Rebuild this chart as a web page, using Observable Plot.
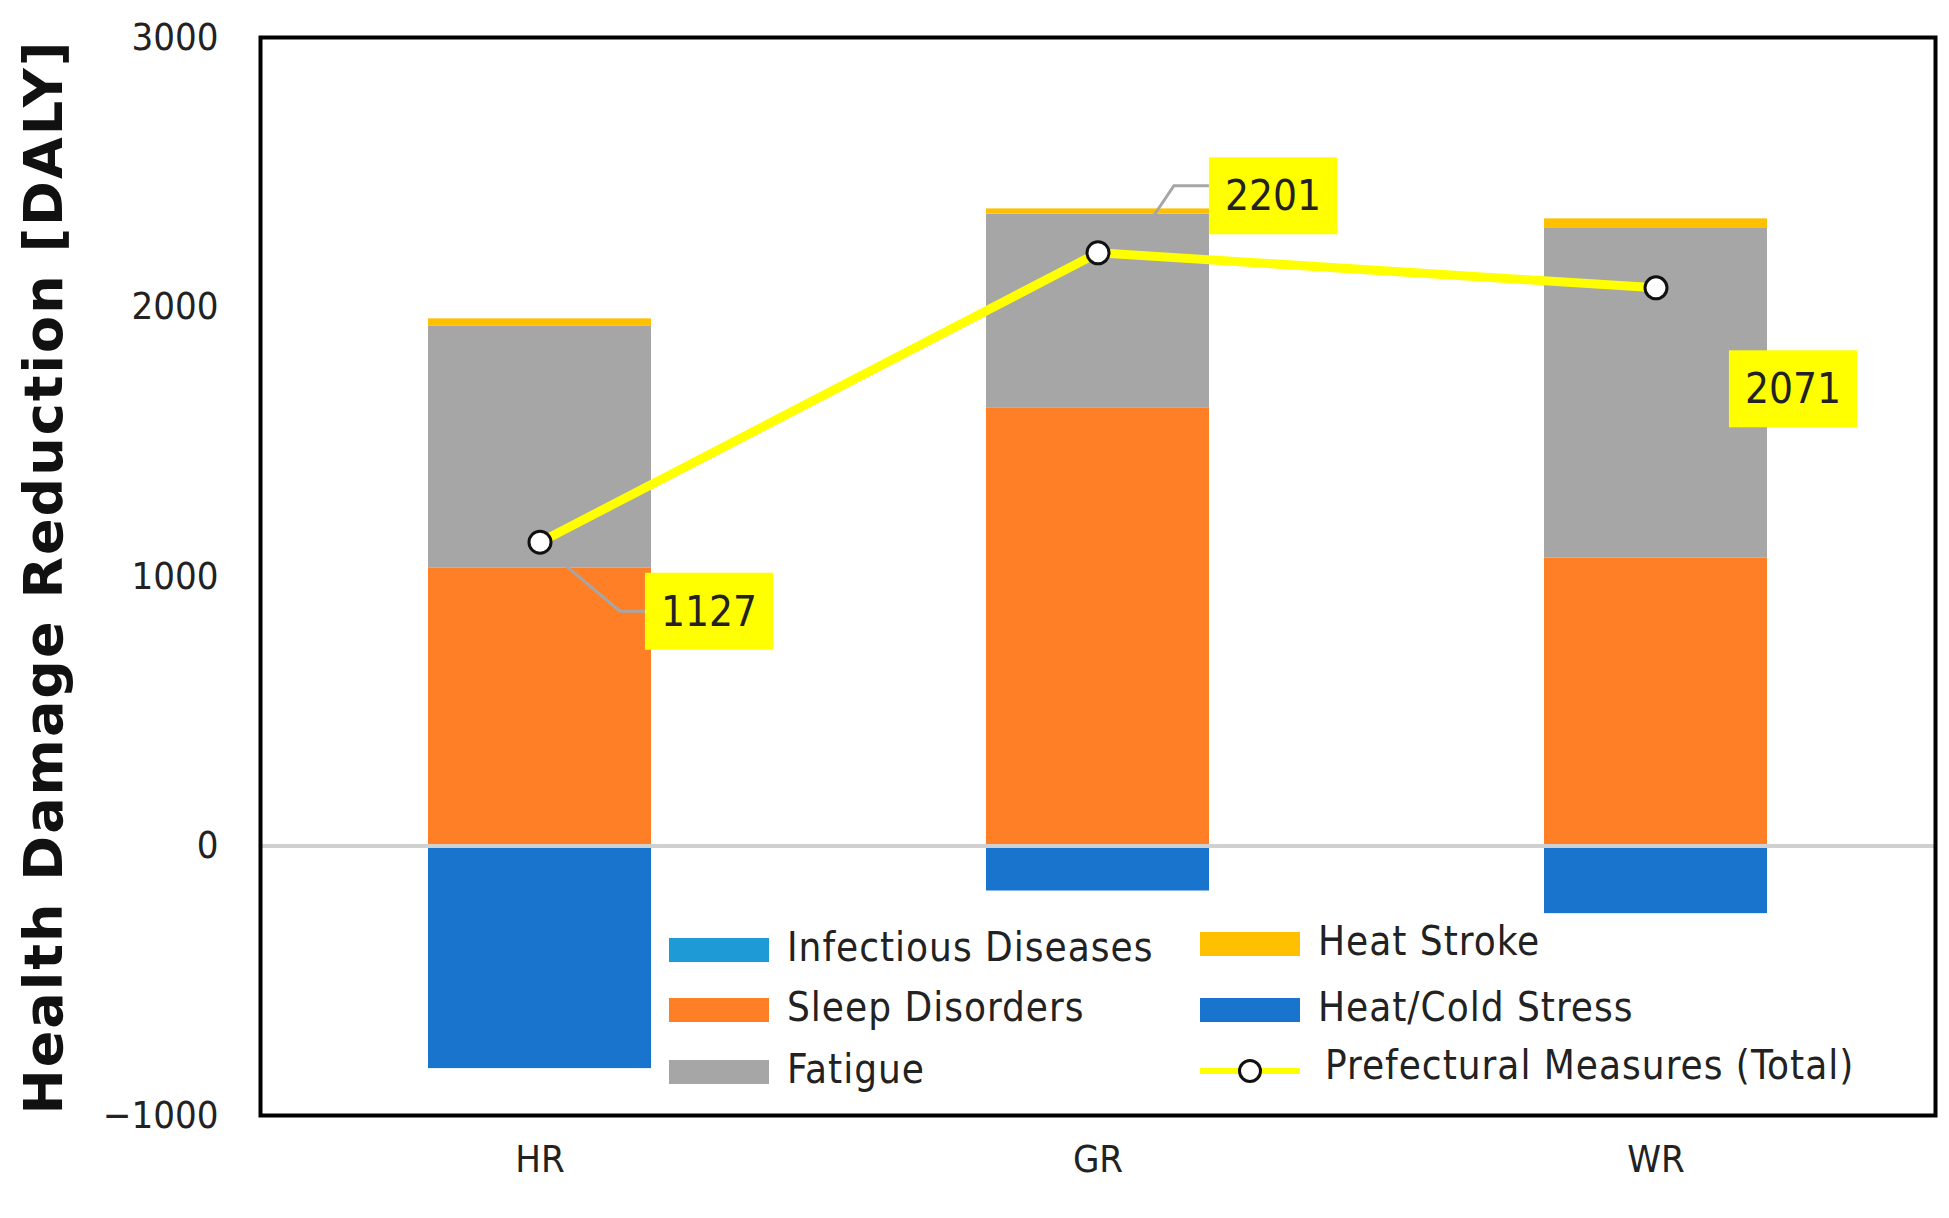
<!DOCTYPE html>
<html><head><meta charset="utf-8">
<script src="https://cdn.jsdelivr.net/npm/d3@7"></script>
<script src="https://cdn.jsdelivr.net/npm/@observablehq/plot@0.6"></script>
<style>
body{margin:0;background:#fff;}
#wrap{position:relative;width:1949px;height:1218px;}
.lg{position:absolute;font-family:"Liberation Sans Narrow","DejaVu Sans Condensed",sans-serif;font-size:40px;color:#222;letter-spacing:1px;}
.sw{position:absolute;width:100px;height:24px;}
</style></head><body><div id="wrap"></div>
<script>
const regions = ["HR","GR","WR"];
const series = ["Infectious Diseases","Sleep Disorders","Fatigue","Heat Stroke","Heat/Cold Stress"];
const colors = ["#1E9BD7","#FF7F27","#A6A6A6","#FFC000","#1874CD"];
const infectious = [2, 2, 2];
const sleep = [1030, 1624, 1067];
const fatigue = [896, 719, 1225];
const heatStroke = [28, 19, 33];
const heatCold = [-826, -167, -251];
const totals = [1127, 2201, 2071];
const yTicks = [-1000, 0, 1000, 2000, 3000];

const vals = [infectious, sleep, fatigue, heatStroke, heatCold];
const rows = [];
series.forEach((s,i)=>regions.forEach((r,j)=>rows.push({region:r, series:s, value:vals[i][j]})));
const tot = regions.map((r,j)=>({region:r, total:totals[j]}));
const offs = [[169,70],[175,-56],[137,102]];

const font = '"Liberation Sans Narrow","DejaVu Sans Condensed",sans-serif';
const chart = Plot.plot({
  width:1949, height:1218,
  marginLeft:260, marginRight:14, marginTop:37, marginBottom:103,
  style:{fontFamily:font, fontSize:"38px", color:"#222"},
  x:{domain:regions, paddingInner:0.6, paddingOuter:0.3, label:null, tickSize:0, tickPadding:30},
  y:{domain:[-1000,3000], ticks:yTicks, tickFormat:d=>d<0?"\u2212"+Math.abs(d):String(d), label:null, tickSize:0, tickPadding:42},
  color:{domain:series, range:colors},
  marks:[
    Plot.barY(rows,{x:"region", y:"value", fill:"series", order:series}),
    Plot.ruleY([0],{stroke:"#D0D0D0", strokeWidth:4}),
    Plot.line(tot,{x:"region", y:"total", stroke:"#FFFF00", strokeWidth:9}),
    Plot.dot(tot,{x:"region", y:"total", r:11, fill:"white", stroke:"#111", strokeWidth:3}),
    Plot.frame({stroke:"#000", strokeWidth:4}),
    ...tot.map((d,i)=>Plot.text([d],{x:"region", y:"total", text:d=>String(d.total), dx:offs[i][0], dy:offs[i][1], fontSize:42, fill:"#222", className:"lbl"+i}))
  ]
});
document.getElementById("wrap").appendChild(chart);
const svg = d3.select(chart);
tot.forEach((d,i)=>{
  const t = svg.select(".lbl"+i+" text");
  if(t.empty()) return;
  const tr = t.attr("transform") || null;
  const bb = t.node().getBBox();
  const padX=16, padY=14;
  const g = t.node().parentNode;
  d3.select(g).insert("rect","text").attr("transform",tr).attr("x",bb.x-padX).attr("y",bb.y-padY).attr("width",bb.width+2*padX).attr("height",bb.height+2*padY).attr("fill","#FFFF00");
  const px = bb.x + bb.width/2 - offs[i][0], py = bb.y + bb.height/2 - offs[i][1];
  const lx = bb.x-padX, ly = bb.y+bb.height/2;
  let p;
  if(i===0) p=`M${px+18},${py+18}L${lx-25},${ly}L${lx},${ly}`;
  else if(i===1) p=`M${px+55},${py-35}L${lx-35},${ly-10}L${lx},${ly-10}`;
  else p=`M${px+12},${py+20}L${lx+10},${bb.y-padY}`;
  d3.select(g).insert("path",":first-child").attr("transform",tr).attr("d",p).attr("fill","none").attr("stroke","#A6A6A6").attr("stroke-width",3);
});
svg.append("text").attr("transform","translate(62,577) rotate(-90)").attr("text-anchor","middle")
  .style("font-family","'DejaVu Sans',sans-serif").style("font-weight","bold").style("font-size","54px").style("letter-spacing","2px").attr("fill","#111")
  .text("Health Damage Reduction [DALY]");
const wrap = document.getElementById("wrap");
const leg = [[0,669,950],[1,669,1010],[2,669,1072],[3,1200,944],[4,1200,1010]];
leg.forEach(([i,x,y])=>{
  const s=document.createElement("div");s.className="sw";s.style.left=x+"px";s.style.top=(y-12)+"px";s.style.background=colors[i];wrap.appendChild(s);
  const t=document.createElement("div");t.className="lg";t.style.left=(x+118)+"px";t.style.top=(y-26)+"px";t.textContent=series[i];wrap.appendChild(t);
});
const sw=document.createElement("div");sw.style.cssText="position:absolute;left:1200px;top:1068px;width:100px;height:6px;background:#FFFF00";wrap.appendChild(sw);
const c=document.createElement("div");c.style.cssText="position:absolute;left:1238px;top:1059px;width:18px;height:18px;border:3px solid #111;border-radius:50%;background:#fff";wrap.appendChild(c);
const t=document.createElement("div");t.className="lg";t.style.left="1325px";t.style.top="1042px";t.textContent="Prefectural Measures (Total)";wrap.appendChild(t);
</script></body></html>
